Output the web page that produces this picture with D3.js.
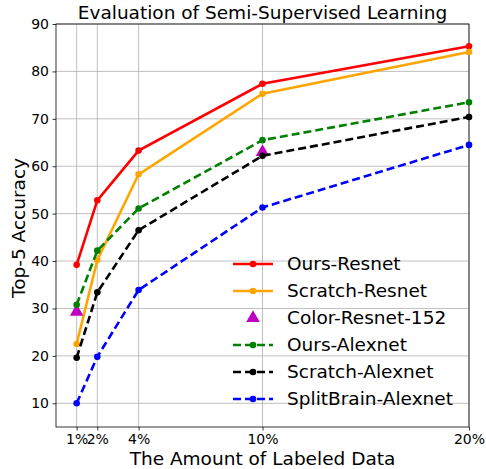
<!DOCTYPE html>
<html><head><meta charset="utf-8">
<script src="https://cdn.jsdelivr.net/npm/d3@7"></script>
<style>body{margin:0;background:#fff}svg{display:block}text{font-family:"DejaVu Sans",sans-serif}</style>
</head><body>
<svg id="c" width="486" height="469"></svg>
<script>
const xTicks = [1, 2, 4, 10, 20];
const xTickLabels = ["1%", "2%", "4%", "10%", "20%"];
const yTicks = [10, 20, 30, 40, 50, 60, 70, 80, 90];
const oursResnet = [39.2, 52.8, 63.3, 77.4, 85.3];
const scratchResnet = [22.5, 40.2, 58.3, 75.3, 84.1];
const colorResnetX = [1, 10];
const colorResnet = [29.3, 63.0];
const oursAlexnet = [30.8, 42.2, 51.1, 65.5, 73.5];
const scratchAlexnet = [19.6, 33.4, 46.5, 62.2, 70.4];
const splitBrainAlexnet = [10.0, 19.8, 33.9, 51.3, 64.5];

const series = [
  {name: "Ours-Resnet", x: xTicks, y: oursResnet, color: "#ff0000", dash: null, type: "line"},
  {name: "Scratch-Resnet", x: xTicks, y: scratchResnet, color: "#ffa500", dash: null, type: "line"},
  {name: "Color-Resnet-152", x: colorResnetX, y: colorResnet, color: "#bf00bf", dash: null, type: "tri"},
  {name: "Ours-Alexnet", x: xTicks, y: oursAlexnet, color: "#008000", dash: "8,4", type: "line"},
  {name: "Scratch-Alexnet", x: xTicks, y: scratchAlexnet, color: "#000000", dash: "8,4", type: "line"},
  {name: "SplitBrain-Alexnet", x: xTicks, y: splitBrainAlexnet, color: "#0000ff", dash: "8,4", type: "line"}
];

const svg = d3.select("#c");
const L = 56, R = 469, T = 24, B = 427;
const x = d3.scaleLinear().domain([0, 20]).range([L, R]);
const y = d3.scaleLinear().domain([5, 90]).range([B, T]);

// grid
svg.append("g").selectAll("line").data(xTicks).join("line")
  .attr("x1", d => x(d)).attr("x2", d => x(d)).attr("y1", T).attr("y2", B)
  .attr("stroke", "#b0b0b0").attr("stroke-width", 0.8);
svg.append("g").selectAll("line").data(yTicks).join("line")
  .attr("x1", L).attr("x2", R).attr("y1", d => y(d)).attr("y2", d => y(d))
  .attr("stroke", "#b0b0b0").attr("stroke-width", 0.8);

// axes
const xAxis = d3.axisBottom(x).tickValues(xTicks).tickFormat((d, i) => xTickLabels[i]).tickSize(3.5).tickPadding(3.5);
const yAxis = d3.axisLeft(y).tickValues(yTicks).tickSize(3.5).tickPadding(3.5);
const gx = svg.append("g").attr("transform", `translate(0,${B})`).call(xAxis);
const gy = svg.append("g").attr("transform", `translate(${L},0)`).call(yAxis);
[gx, gy].forEach(g => {
  g.select(".domain").remove();
  g.selectAll("text").attr("font-size", 14).attr("fill", "#000").attr("font-family", "DejaVu Sans");
  g.selectAll("line").attr("stroke", "#000").attr("stroke-width", 0.8);
});

// frame
svg.append("rect").attr("x", L).attr("y", T).attr("width", R - L).attr("height", B - T)
  .attr("fill", "none").attr("stroke", "#000").attr("stroke-width", 0.8);

const plot = svg.append("g");
const line = d3.line().x(d => x(d[0])).y(d => y(d[1]));
const tri = d3.symbol().type(d3.symbolTriangle).size(80);

series.forEach(s => {
  const pts = s.x.map((v, i) => [v, s.y[i]]);
  if (s.type === "line") {
    plot.append("path").datum(pts).attr("d", line).attr("fill", "none")
      .attr("stroke", s.color).attr("stroke-width", 2.6)
      .attr("stroke-dasharray", s.dash);
    plot.append("g").selectAll("circle").data(pts).join("circle")
      .attr("cx", d => x(d[0])).attr("cy", d => y(d[1])).attr("r", 3.3).attr("fill", s.color);
  } else {
    plot.append("g").selectAll("path").data(pts).join("path")
      .attr("d", tri).attr("transform", d => `translate(${x(d[0])},${y(d[1])})`)
      .attr("fill", s.color);
  }
});

// legend
const lg = svg.append("g");
series.forEach((s, i) => {
  const yy = 264 + i * 27;
  if (s.type === "line") {
    lg.append("line").attr("x1", 233).attr("x2", 273).attr("y1", yy).attr("y2", yy)
      .attr("stroke", s.color).attr("stroke-width", 2.6).attr("stroke-dasharray", s.dash);
    lg.append("circle").attr("cx", 253).attr("cy", yy).attr("r", 3.3).attr("fill", s.color);
  } else {
    lg.append("path").attr("d", tri).attr("transform", `translate(253,${yy})`).attr("fill", s.color);
  }
  lg.append("text").attr("x", 287).attr("y", yy).attr("dy", "0.35em")
    .attr("font-size", 18.5).attr("fill", "#000").text(s.name);
});

// titles
svg.append("text").attr("x", (L + R) / 2).attr("y", 19).attr("text-anchor", "middle")
  .attr("font-size", 18.5).text("Evaluation of Semi-Supervised Learning");
svg.append("text").attr("x", (L + R) / 2).attr("y", 465).attr("text-anchor", "middle")
  .attr("font-size", 18.5).text("The Amount of Labeled Data");
svg.append("text").attr("transform", `translate(24.5,228) rotate(-90)`).attr("text-anchor", "middle")
  .attr("font-size", 18.5).text("Top-5 Accuracy");
</script>
</body></html>
